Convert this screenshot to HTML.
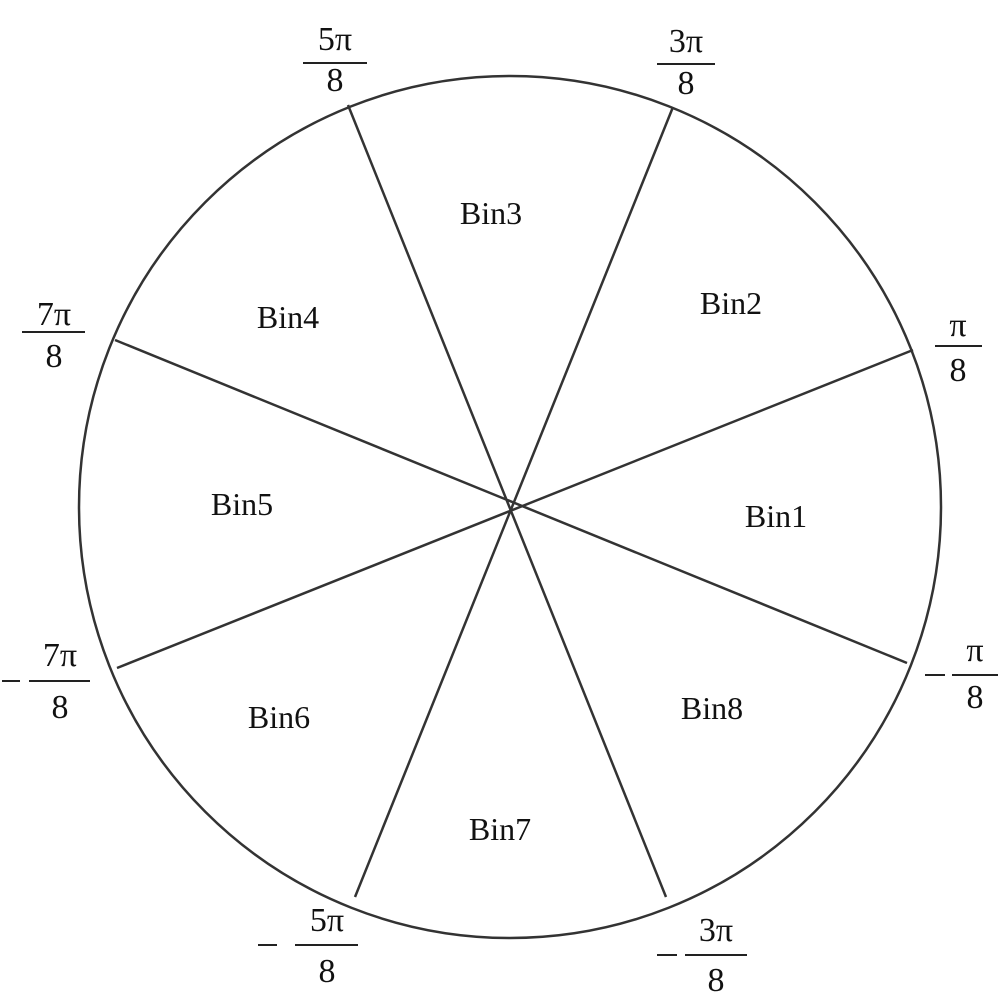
<!DOCTYPE html>
<html><head><meta charset="utf-8"><style>html,body{margin:0;padding:0;background:#fff}</style></head>
<body>
<svg width="1000" height="1003" viewBox="0 0 1000 1003" xmlns="http://www.w3.org/2000/svg" font-family="Liberation Serif, serif" fill="#111">
<g stroke="#333" stroke-width="2.5" fill="none">
<circle cx="510" cy="507" r="431"/>
<line x1="115" y1="340" x2="907" y2="663"/>
<line x1="348" y1="105" x2="666" y2="897"/>
<line x1="673" y1="107" x2="355" y2="897"/>
<line x1="913" y1="350" x2="117" y2="668"/>
</g>
<g font-size="32" text-anchor="middle">
<text x="491" y="224">Bin3</text>
<text x="731" y="314">Bin2</text>
<text x="288" y="328">Bin4</text>
<text x="242" y="515">Bin5</text>
<text x="776" y="527">Bin1</text>
<text x="712" y="719">Bin8</text>
<text x="279" y="728">Bin6</text>
<text x="500" y="840">Bin7</text>
</g>
<g font-size="34" text-anchor="middle">
<text x="335" y="50">5π</text><text x="335" y="91">8</text>
<text x="686" y="52">3π</text><text x="686" y="94">8</text>
<text x="958" y="336">π</text><text x="958" y="381">8</text>
<text x="54" y="325">7π</text><text x="54" y="367">8</text>
<text x="60" y="666">7π</text><text x="60" y="718">8</text>
<text x="975" y="661">π</text><text x="975" y="708">8</text>
<text x="327" y="931">5π</text><text x="327" y="982">8</text>
<text x="716" y="941">3π</text><text x="716" y="991">8</text>
</g>
<g stroke="#222" stroke-width="2">
<line x1="303" y1="63" x2="367" y2="63"/>
<line x1="657" y1="64" x2="715" y2="64"/>
<line x1="935" y1="346" x2="982" y2="346"/>
<line x1="22" y1="332" x2="85" y2="332"/>
<line x1="29" y1="681" x2="90" y2="681"/>
<line x1="2" y1="681" x2="20" y2="681"/>
<line x1="952" y1="675" x2="998" y2="675"/>
<line x1="925" y1="675" x2="945" y2="675"/>
<line x1="295" y1="945" x2="358" y2="945"/>
<line x1="258" y1="945" x2="277" y2="945"/>
<line x1="685" y1="955" x2="747" y2="955"/>
<line x1="657" y1="955" x2="677" y2="955"/>
</g>
</svg>
</body></html>
